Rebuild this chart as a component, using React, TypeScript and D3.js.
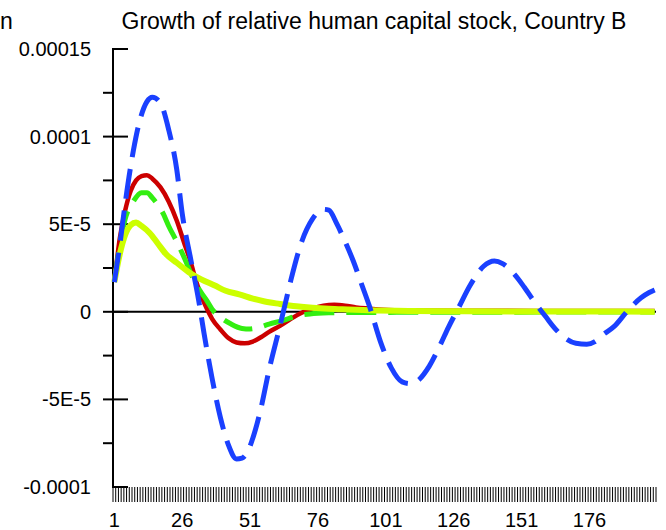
import React from "react";
import * as d3 from "d3";

const W = 666;
const H = 530;

const chartTitle = "Growth of relative human capital stock, Country B";
const cutLabel = "n";
const periods: number[] = d3.range(1, 201);
const xTickLabels: number[] = [1, 26, 51, 76, 101, 126, 151, 176];
const yMajorTicks: number[] = [-0.0001, -0.00005, 0, 0.00005, 0.0001, 0.00015];
const yMajorLabels: string[] = ["-0.0001", "-5E-5", "0", "5E-5", "0.0001", "0.00015"];
const yMinorTicks: number[] = [-0.000075, -0.000025, 0.000025, 0.000075, 0.000125];

// values in units of 1e-6, keyed by period
const blueSeries: [number, number][] = [
  [1, 17], [3, 38], [5, 62], [8, 92], [10, 107], [13, 120], [15, 122.5], [18, 119], [21, 104],
  [24, 81], [26, 56], [29, 31], [32, 7], [34, -12], [37, -38], [40, -60], [43, -76], [46, -84],
  [48, -83.5], [50, -80], [53, -67], [55, -55], [58, -33], [62, -8], [64, 5], [66, 18], [70, 40],
  [74, 53], [78, 58.5], [80, 58], [83, 50], [86, 40], [89, 29], [92, 16], [95, 3], [99, -17],
  [103, -32], [107, -40], [110, -41], [113, -39], [117, -31], [121, -19], [124, -9], [128, 3],
  [132, 15], [137, 26], [141, 29], [144, 27.5], [148, 22], [152, 14], [156, 5], [160, -3],
  [163, -9], [167, -15], [171, -18], [175, -18.5], [178, -17], [181, -13], [185, -8.5],
  [190, 0.5], [195, 8], [198, 11], [200, 12.5],
];
const redSeries: [number, number][] = [
  [1, 17], [3, 42], [5, 58], [7, 69], [9, 75], [11, 77.5], [13, 78], [15, 76], [18, 71], [21, 63],
  [24, 52], [27, 38], [29, 29], [31, 18], [33, 9], [35, 2], [37, -4], [40, -10], [43, -15],
  [46, -17.5], [49, -18], [52, -17], [55, -14.5], [58, -11.5], [62, -8], [66, -4], [70, -0.5],
  [74, 2], [78, 3.5], [82, 4], [86, 3.5], [90, 2.5], [95, 1.8], [100, 1.2], [110, 0.8],
  [130, 0.6], [160, 0.5], [200, 0.5],
];
const greenSeries: [number, number][] = [
  [1, 17], [3, 38], [5, 53], [8, 63], [11, 68], [13, 68], [15, 65], [19, 56], [21, 49], [24, 40],
  [27, 30], [30, 19], [33, 11], [35, 6.5], [37, 1.5], [40, -3], [44, -7], [48, -9.5], [51, -9.8],
  [54, -9], [58, -7], [63, -5], [68, -2.5], [73, -1.2], [80, -0.6], [90, -0.4], [110, -0.3],
  [150, -0.2], [200, -0.1],
];
const yellowSeries: [number, number][] = [
  [1, 17], [3, 33], [5, 44], [7, 49.5], [9, 51], [11, 49], [14, 45], [17, 39], [20, 33], [24, 28],
  [29, 22], [33, 18.5], [38, 15], [42, 12], [47, 10], [52, 7.5], [56, 6], [62, 4.5], [68, 3.2],
  [74, 2.3], [80, 1.7], [87, 1.3], [95, 0.9], [110, 0.5], [130, 0.3], [160, 0.15], [200, 0.1],
];

const seriesList = [
  { name: "red", data: redSeries, color: "#cc0000", width: 4.5, dash: "" },
  { name: "green", data: greenSeries, color: "#33ee11", width: 5, dash: "30 12" },
  { name: "yellow", data: yellowSeries, color: "#ccff00", width: 6, dash: "" },
  { name: "blue", data: blueSeries, color: "#1a40ff", width: 5, dash: "30 12" },
];

export default function App() {
  const x = d3.scaleBand<number>().domain(periods).range([113, 656]).paddingInner(0).paddingOuter(0);
  const xc = (p: number) => (x(Math.round(p)) as number) + x.bandwidth() / 2 + (p - Math.round(p)) * x.bandwidth();
  const y = d3.scaleLinear().domain([-0.0001, 0.00015]).range([487, 49]);

  const line = d3
    .line<[number, number]>()
    .x((d) => xc(d[0]))
    .y((d) => y(d[1] * 1e-6))
    .curve(d3.curveMonotoneX);

  const boundaries = d3.range(0, periods.length + 1).map((i) => 113 + i * x.bandwidth());
  const font = "Arial, 'Liberation Sans', sans-serif";

  return (
    <svg width={W} height={H} style={{ position: "absolute", left: 0, top: 0, background: "#fff" }} fontFamily={font}>
      <rect x={0} y={0} width={W} height={H} fill="#fff" />
      <text x={0} y={29} fontSize={23}>{cutLabel}</text>
      <text x={374} y={29} fontSize={23} textAnchor="middle">{chartTitle}</text>

      {/* x ticks comb */}
      <g stroke="#000" strokeWidth={1}>
        {boundaries.map((bx, i) => (
          <line key={i} x1={bx} x2={bx} y1={487} y2={502} />
        ))}
      </g>
      {xTickLabels.map((p) => (
        <text key={p} x={xc(p)} y={527} fontSize={20} textAnchor="middle">{p}</text>
      ))}

      {/* y axis */}
      <line x1={113} x2={113} y1={y(0.00015) - 1} y2={y(-0.0001) + 1} stroke="#000" strokeWidth={2} />
      {yMinorTicks.map((v) => (
        <line key={v} x1={103} x2={113} y1={y(v)} y2={y(v)} stroke="#000" strokeWidth={2} />
      ))}
      {yMajorTicks.map((v, i) => {
        const isEnd = i === 0 || i === yMajorTicks.length - 1;
        return (
          <g key={v}>
            <line x1={isEnd ? 113 : 103} x2={128} y1={y(v)} y2={y(v)} stroke="#000" strokeWidth={2} />
            <text x={91} y={y(v)} dy="0.35em" fontSize={20} textAnchor="end">{yMajorLabels[i]}</text>
          </g>
        );
      })}
      {/* zero line */}
      <line x1={113} x2={656} y1={y(0)} y2={y(0)} stroke="#000" strokeWidth={2} />

      {seriesList.map((s) => (
        <path
          key={s.name}
          d={line(s.data) || ""}
          fill="none"
          stroke={s.color}
          strokeWidth={s.width}
          strokeDasharray={s.dash || undefined}
          strokeLinejoin="round"
        />
      ))}
    </svg>
  );
}
